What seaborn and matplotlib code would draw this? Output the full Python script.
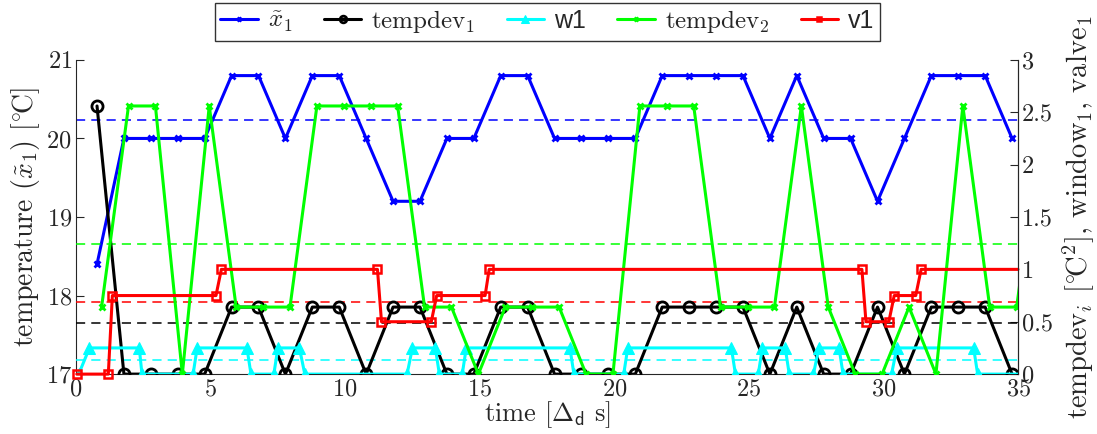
import numpy as np
import pandas as pd
import matplotlib
matplotlib.use("Agg")
import matplotlib.pyplot as plt
from matplotlib.ticker import FormatStrFormatter
import seaborn as sns

# sample times
t_x1 = [0.78, 1.78, 2.78, 3.78, 4.78, 5.78, 6.78, 7.78, 8.78, 9.78, 10.78, 11.78,
        12.78, 13.78, 14.78, 15.78, 16.78, 17.78, 18.78, 19.78, 20.78, 21.78, 22.78,
        23.78, 24.78, 25.78, 26.78, 27.78, 28.78, 29.78, 30.78, 31.78, 32.78, 33.78, 34.78]
t_dev2 = [0.95, 1.95, 2.95, 3.95, 4.95, 5.95, 6.95, 7.95, 8.95, 9.95, 10.95, 11.95,
          12.95, 13.95, 14.95, 15.95, 16.95, 17.95, 18.95, 19.95, 20.95, 21.95, 22.95,
          23.95, 24.95, 25.95, 26.95, 27.95, 28.95, 29.95, 30.95, 31.95, 32.95, 33.95,
          34.95, 35.95]

# room temperature and squared deviations
x1 = [18.4, 20, 20, 20, 20, 20.8, 20.8, 20, 20.8, 20.8, 20, 19.2, 19.2, 20, 20,
      20.8, 20.8, 20, 20, 20, 20, 20.8, 20.8, 20.8, 20.8, 20, 20.8, 20, 20, 19.2,
      20, 20.8, 20.8, 20.8, 20]
tempdev1 = [2.56, 0, 0, 0, 0, 0.64, 0.64, 0, 0.64, 0.64, 0, 0.64, 0.64, 0, 0,
            0.64, 0.64, 0, 0, 0, 0, 0.64, 0.64, 0.64, 0.64, 0, 0.64, 0, 0, 0.64,
            0, 0.64, 0.64, 0.64, 0]
tempdev2 = [0.64, 2.56, 2.56, 0, 2.56, 0.64, 0.64, 0.64, 2.56, 2.56, 2.56, 2.56,
            0.64, 0.64, 0, 0.64, 0.64, 0.64, 0, 0, 2.56, 2.56, 2.56, 0.64, 0.64,
            0.64, 2.56, 0.64, 0, 0, 0.64, 0, 2.56, 0.64, 0.64, 2.56]

# window
t_w1 = [0.1, 0.5, 2.35, 2.45, 4.35, 4.5, 6.35, 6.5, 7.35, 7.5, 8.3, 8.5, 12.3, 12.5,
        13.35, 13.5, 14.35, 14.5, 18.35, 18.5, 20.35, 20.5, 24.35, 24.5, 25.35, 25.5,
        26.35, 26.5, 27.4, 27.6, 28.35, 28.5, 30.3, 30.5, 33.35, 33.5, 36.0]
w1 = [0, 0.25, 0.25, 0, 0, 0.25, 0.25, 0, 0, 0.25, 0.25, 0, 0, 0.25, 0.25, 0, 0,
      0.25, 0.25, 0, 0, 0.25, 0.25, 0, 0, 0.25, 0.25, 0, 0, 0.25, 0.25, 0, 0, 0.25,
      0.25, 0, 0]

# valve
t_v1 = [0.03, 1.2, 1.35, 5.2, 5.4, 11.2, 11.35, 13.2, 13.4, 15.2, 15.35, 29.2,
        29.35, 30.2, 30.4, 31.2, 31.4, 35.0]
v1 = [0, 0, 0.75, 0.75, 1, 1, 0.5, 0.5, 0.75, 0.75, 1, 1, 0.5, 0.5, 0.75, 0.75, 1, 1]

# dashed reference levels
x1_ref = 20.24
tempdev2_ref = 1.24
v1_ref = 0.69
tempdev1_ref = 0.487
w1_ref = 0.136

sns.set_style("white")
plt.rcParams["font.family"] = ["cmr10", "DejaVu Serif"]
plt.rcParams["mathtext.fontset"] = "cm"
plt.rcParams["axes.formatter.use_mathtext"] = True
plt.rcParams["axes.unicode_minus"] = False

GREEN = "#00ff00"

fig = plt.figure(figsize=(10.97, 4.34), dpi=100)
ax = fig.add_axes([0.0693, 0.138, 0.8587, 0.724])
ax2 = ax.twinx()

lw = 2.2
ax.axhline(x1_ref, color="blue", ls="--", lw=1.1, dashes=(6, 4))
for val, c in [(tempdev2_ref, GREEN), (v1_ref, "red"), (tempdev1_ref, "black"), (w1_ref, "cyan")]:
    ax2.axhline(val, color=c, ls="--", lw=1.1, dashes=(6, 4))

sns.lineplot(x=t_x1, y=x1, ax=ax, color="blue", marker="x", markersize=5,
             markeredgecolor="blue", markeredgewidth=2, linewidth=lw, legend=False)
sns.lineplot(x=t_x1, y=tempdev1, ax=ax2, color="black", marker="o", markersize=8,
             markerfacecolor="none", markeredgecolor="black", markeredgewidth=2,
             linewidth=lw, legend=False)
sns.lineplot(x=t_w1, y=w1, ax=ax2, color="cyan", marker="^", markersize=8.5,
             markeredgecolor="cyan", linewidth=lw, legend=False)
sns.lineplot(x=t_dev2, y=tempdev2, ax=ax2, color=GREEN, marker="x", markersize=5,
             markeredgecolor=GREEN, markeredgewidth=2, linewidth=lw, legend=False)
sns.lineplot(x=t_v1, y=v1, ax=ax2, color="red", marker="s", markersize=6,
             markerfacecolor="none", markeredgecolor="red", markeredgewidth=1.8,
             linewidth=lw, legend=False, markevery=list(range(len(t_v1) - 1)),
             clip_on=False)

ax.set_xlim(0, 35)
ax.set_ylim(17, 21)
ax2.set_ylim(0, 3)
ax.set_xticks(range(0, 36, 5))
ax.set_yticks([17, 18, 19, 20, 21])
ax2.set_yticks([0, 0.5, 1, 1.5, 2, 2.5, 3])
ax2.yaxis.set_major_formatter(FormatStrFormatter("%g"))

for a in (ax, ax2):
    a.spines["top"].set_visible(False)
    for s in a.spines.values():
        s.set_linewidth(0.8)
        s.set_color("#262626")
ax2.spines["left"].set_visible(False)
ax2.spines["bottom"].set_visible(False)

ax.tick_params(axis="both", direction="in", length=6, width=0.8, labelsize=17.5,
               colors="#262626", pad=3)
ax2.tick_params(axis="y", direction="in", length=6, width=0.8, labelsize=17.5,
                colors="#262626", pad=3)

ax.set_xlabel(r"time [$\Delta_{\mathsf{d}}$ s]", fontsize=19, labelpad=-1)
ax.set_ylabel(r"temperature $(\tilde{x}_1)$ [$^{\circ}\!\mathrm{C}$]", fontsize=20, labelpad=3)
ax2.set_ylabel(r"tempdev$_i$ [$^{\circ}\!\mathrm{C}^2$], window$_1$, valve$_1$",
               fontsize=20.5, labelpad=6)

handles = [ax.lines[-1]] + ax2.lines[-4:]
labels = [r"$\tilde{x}_1$", r"tempdev$_1$", "w1", r"tempdev$_2$", "v1"]
leg = fig.legend(handles, labels, loc="upper center", bbox_to_anchor=(0.499, 1.0),
                 ncol=5, frameon=True, fancybox=False, edgecolor="black",
                 fontsize=18, handlelength=1.5, handletextpad=0.4,
                 columnspacing=1.25, borderpad=0.22, borderaxespad=0.1,
                 markerscale=0.6)
leg.get_frame().set_linewidth(1.0)
for txt in leg.get_texts():
    if txt.get_text() in ("w1", "v1"):
        txt.set_family("Liberation Sans")

fig.savefig("out.png", dpi=100)
